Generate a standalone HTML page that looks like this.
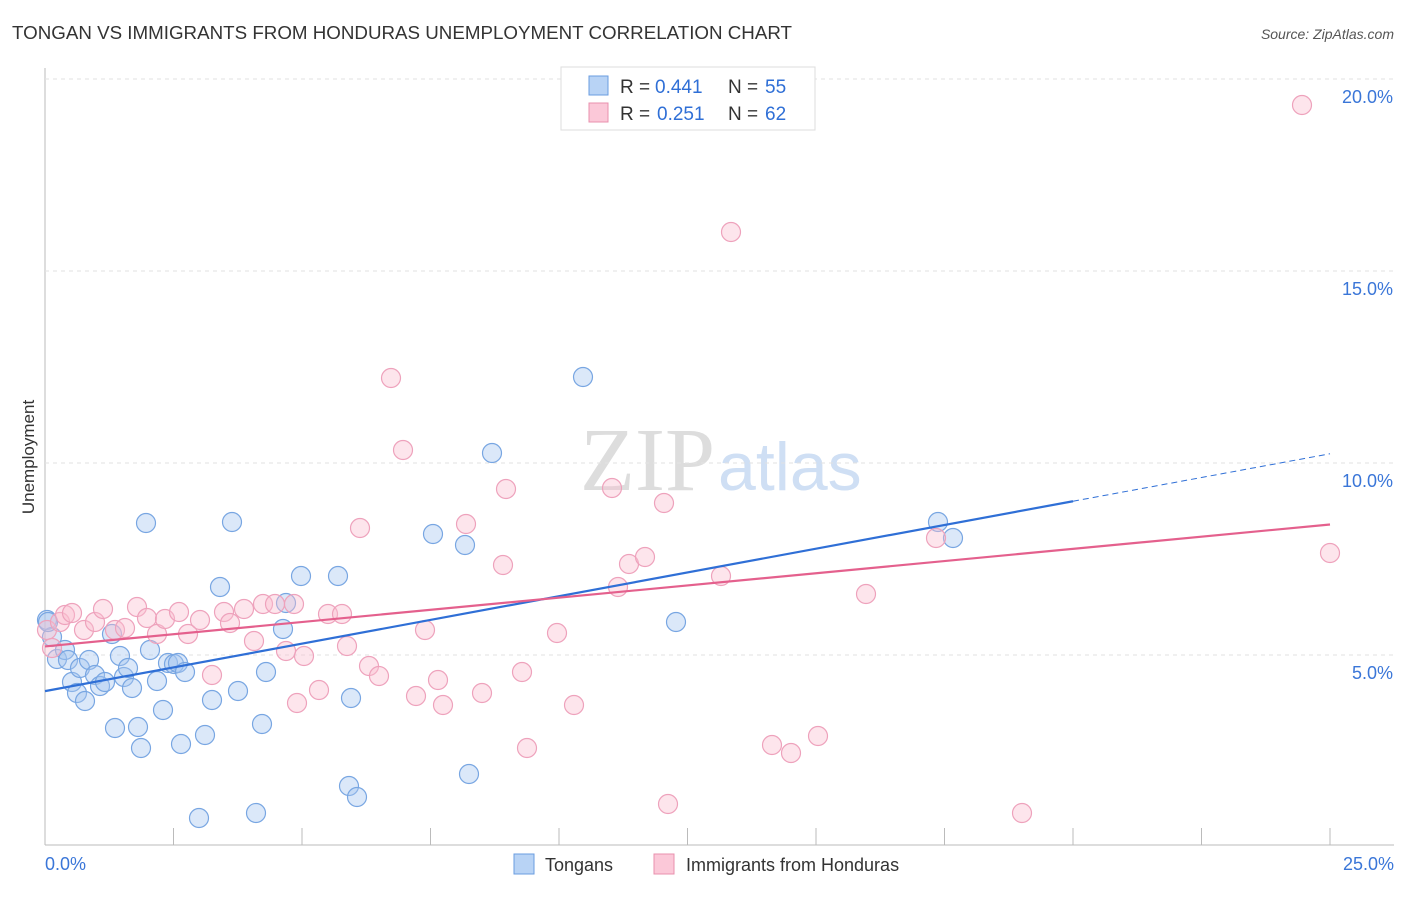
<!DOCTYPE html>
<html><head><meta charset="utf-8"><style>
body{margin:0;background:#fff;font-family:"Liberation Sans",sans-serif}
</style></head><body>
<svg id="c" width="1406" height="892" xmlns="http://www.w3.org/2000/svg" font-family="Liberation Sans, sans-serif">
<text x="12" y="39" font-size="18" fill="#333" textLength="780" lengthAdjust="spacingAndGlyphs">TONGAN VS IMMIGRANTS FROM HONDURAS UNEMPLOYMENT CORRELATION CHART</text>
<text x="1394" y="39" font-size="14" fill="#555" font-style="italic" text-anchor="end">Source: ZipAtlas.com</text>
<text x="715" y="490" font-size="90" fill="#ddd" text-anchor="end" font-family="Liberation Serif, serif">ZIP</text>
<text x="718" y="490" font-size="68" fill="#cfdff4">atlas</text>
<text x="34" y="457" font-size="17" fill="#333" transform="rotate(-90 34 457)" text-anchor="middle">Unemployment</text>
<g id="grid"></g><g id="pts"></g><g id="lines"></g>
<g>
<rect x="561" y="67" width="254" height="63" fill="#fff" stroke="#ddd"/>
<rect x="589" y="76" width="19" height="19" fill="#b8d3f5" stroke="#6a9de0"/>
<rect x="589" y="103" width="19" height="19" fill="#fbc8d8" stroke="#e890ae"/>
<text x="620" y="93" font-size="19" fill="#333">R =</text><text x="655" y="93" font-size="19" fill="#2f6fd6">0.441</text>
<text x="728" y="93" font-size="19" fill="#333">N =</text><text x="765" y="93" font-size="19" fill="#2f6fd6">55</text>
<text x="620" y="120" font-size="19" fill="#333">R =</text><text x="657" y="120" font-size="19" fill="#2f6fd6">0.251</text>
<text x="728" y="120" font-size="19" fill="#333">N =</text><text x="765" y="120" font-size="19" fill="#2f6fd6">62</text>
</g>
<g>
<rect x="514" y="854" width="20" height="20" fill="#b8d3f5" stroke="#6a9de0"/>
<text x="545" y="871" font-size="18" fill="#333">Tongans</text>
<rect x="654" y="854" width="20" height="20" fill="#fbc8d8" stroke="#e890ae"/>
<text x="686" y="871" font-size="18" fill="#333">Immigrants from Honduras</text>
</g>
</svg>
<script>
const blueX=[47,52,57,65,68,72,77,80,85,89,95,100,105,112,115,120,124,128,132,138,141,146,150,157,163,168,174,178,181,185,199,205,212,220,232,238,256,262,266,283,286,301,338,349,351,357,433,465,469,492,583,676,938,953,48];
const blueY=[620,637,659,650,660,682,693,668,701,660,675,686,682,634,728,656,677,668,688,727,748,523,650,681,710,663,664,663,744,672,818,735,700,587,522,691,813,724,672,629,603,576,576,786,698,797,534,545,774,453,377,622,522,538,622];
const pinkX=[47,52,60,65,72,84,95,103,115,125,137,147,157,165,179,188,200,212,224,230,244,254,263,275,286,294,297,304,319,328,342,347,360,369,379,391,403,416,425,438,443,466,482,503,506,522,527,557,574,612,618,629,645,664,668,721,731,772,791,818,866,936,1022,1302,1330];
const pinkY=[630,648,622,615,613,630,622,609,630,628,607,618,634,619,612,634,620,675,612,623,609,641,604,604,651,604,703,656,690,614,614,646,528,666,676,378,450,696,630,680,705,524,693,565,489,672,748,633,705,488,587,564,557,503,804,576,232,745,753,736,594,538,813,105,553];
// convert pixel reads to data values
const tongX=blueX.map(p=>(p-45)/1285*25), tongY=blueY.map(p=>(847-p)/38.4);
const honX=pinkX.map(p=>(p-45)/1285*25), honY=pinkY.map(p=>(847-p)/38.4);
const yTicks=[5,10,15,20], xTickLabels=["0.0%","25.0%"];
const sx=v=>45+v/25*1285, sy=v=>847-v*38.4;
const NS="http://www.w3.org/2000/svg";
function mk(t,a,p){const e=document.createElementNS(NS,t);for(const k in a)e.setAttribute(k,a[k]);document.getElementById(p).appendChild(e);return e;}
let e=mk('line',{x1:45,y1:845,x2:1394,y2:845,stroke:'#bbb'},'grid');


e=mk('line',{x1:45,y1:68,x2:45,y2:845,stroke:'#bbb'},'grid');


for(let i=0;i<=10;i++){e=mk('line',{x1:sx(i*2.5),y1:828,x2:sx(i*2.5),y2:845,stroke:'#bbb'},'grid');

}
yTicks.forEach(v=>{e=mk('line',{x1:45,y1:sy(v),x2:1394,y2:sy(v),stroke:'#e2e2e2','stroke-dasharray':'4,4'},'grid');


const t=mk('text',{x:1393,y:sy(v)+24,'font-size':18,fill:'#3a76d8','text-anchor':'end'},'grid');t.textContent=v.toFixed(1)+'%';

});
[[45,'start',xTickLabels[0]],[1394,'end',xTickLabels[1]]].forEach(([x,a,s])=>{const t=mk('text',{x:x,y:870,'font-size':18,fill:'#3a76d8','text-anchor':a},'grid');t.textContent=s;

});
tongX.forEach((v,i)=>{const c=mk('circle',{cx:sx(v),cy:sy(tongY[i]),r:9.5,fill:'rgba(165,198,240,0.4)',stroke:'#78a6e2','stroke-width':1.2},'pts');

});
honX.forEach((v,i)=>{const c=mk('circle',{cx:sx(v),cy:sy(honY[i]),r:9.5,fill:'rgba(250,190,208,0.4)',stroke:'#eea2bc','stroke-width':1.2},'pts');

});
function fit(X,Y){const n=X.length,mx=X.reduce((a,b)=>a+b)/n,my=Y.reduce((a,b)=>a+b)/n;let sxy=0,sxx=0;X.forEach((x,i)=>{sxy+=(x-mx)*(Y[i]-my);sxx+=(x-mx)**2});const b=sxy/sxx;return [my-b*mx,b];}
const [ba,bb]=fit(tongX,tongY),[pa,pb]=fit(honX,honY);
e=mk('line',{x1:sx(0),y1:sy(ba),x2:sx(20),y2:sy(ba+bb*20),stroke:'#2f6fd6','stroke-width':2.2},'lines');


e=mk('line',{x1:sx(20),y1:sy(ba+bb*20),x2:sx(25),y2:sy(ba+bb*25),stroke:'#2f6fd6','stroke-width':1,'stroke-dasharray':'6,4'},'lines');


e=mk('line',{x1:sx(0),y1:sy(pa),x2:sx(25),y2:sy(pa+pb*25),stroke:'#e4608d','stroke-width':2.2},'lines');


</script>
</body></html>
